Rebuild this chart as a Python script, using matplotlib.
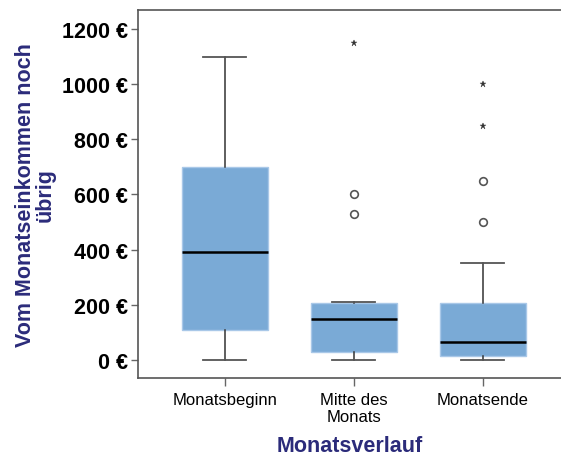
import numpy as np
import matplotlib.pyplot as plt

plt.rcParams['font.family'] = ['Liberation Sans', 'DejaVu Sans']

# data
categories = ['Monatsbeginn', 'Mitte des\nMonats', 'Monatsende']
whisker_low = [0, 0, 0]
q1 = [110, 28, 15]
median = [390, 150, 65]
q3 = [700, 208, 208]
whisker_high = [1100, 210, 350]
outliers = [[], [600, 530], [650, 500]]    # circles
extremes = [[], [1150], [1000, 850]]       # stars

yticks = [0, 200, 400, 600, 800, 1000, 1200]
navy = '#2b2b7a'
box_color = '#7aaad6'

fig = plt.figure(figsize=(5.61, 4.56), dpi=100)
ax = fig.add_axes([0.246, 0.169, 0.754, 0.807])

stats = []
for i in range(3):
    stats.append(dict(whislo=whisker_low[i], q1=q1[i], med=median[i],
                      q3=q3[i], whishi=whisker_high[i], fliers=outliers[i]))

pos = [1, 2, 3]
ax.bxp(stats, positions=pos, widths=0.667, patch_artist=True,
       boxprops=dict(facecolor=box_color, edgecolor='#a9c8e8', linewidth=1),
       medianprops=dict(color='black', linewidth=1.8),
       whiskerprops=dict(color='#333333', linewidth=1.1),
       capprops=dict(color='#555555', linewidth=1.3),
       capwidths=0.333,
       flierprops=dict(marker='o', markersize=5.5, markerfacecolor='white',
                       markeredgecolor='#555555', markeredgewidth=1.2))

for i in range(3):
    if extremes[i]:
        ax.plot([pos[i]] * len(extremes[i]), extremes[i], ls='none', marker='*',
                markersize=5, color='#333333', markeredgewidth=0.3)

ax.set_xlim(0.326, 3.605)
ax.set_ylim(-65, 1269)
ax.set_yticks(yticks)
ax.set_yticklabels([f'{v} €' for v in yticks], fontsize=15.5, fontweight='bold')
ax.set_xticks(pos)
ax.set_xticklabels(categories, fontsize=12)
ax.tick_params(axis='y', length=5, width=1, color='#666666', pad=2)
ax.tick_params(axis='x', length=6, width=1, color='#666666', pad=4)

for side in ['left', 'top', 'bottom']:
    ax.spines[side].set_color('#555555')
    ax.spines[side].set_linewidth(1.2)
ax.spines['right'].set_visible(False)

ax.set_xlabel('Monatsverlauf', fontsize=15.5, fontweight='bold', color=navy, labelpad=8)
ax.set_ylabel('Vom Monatseinkommen noch\nübrig', fontsize=15.5, fontweight='bold',
              color=navy, labelpad=5, linespacing=0.9)

fig.savefig('out.png', dpi=100)
